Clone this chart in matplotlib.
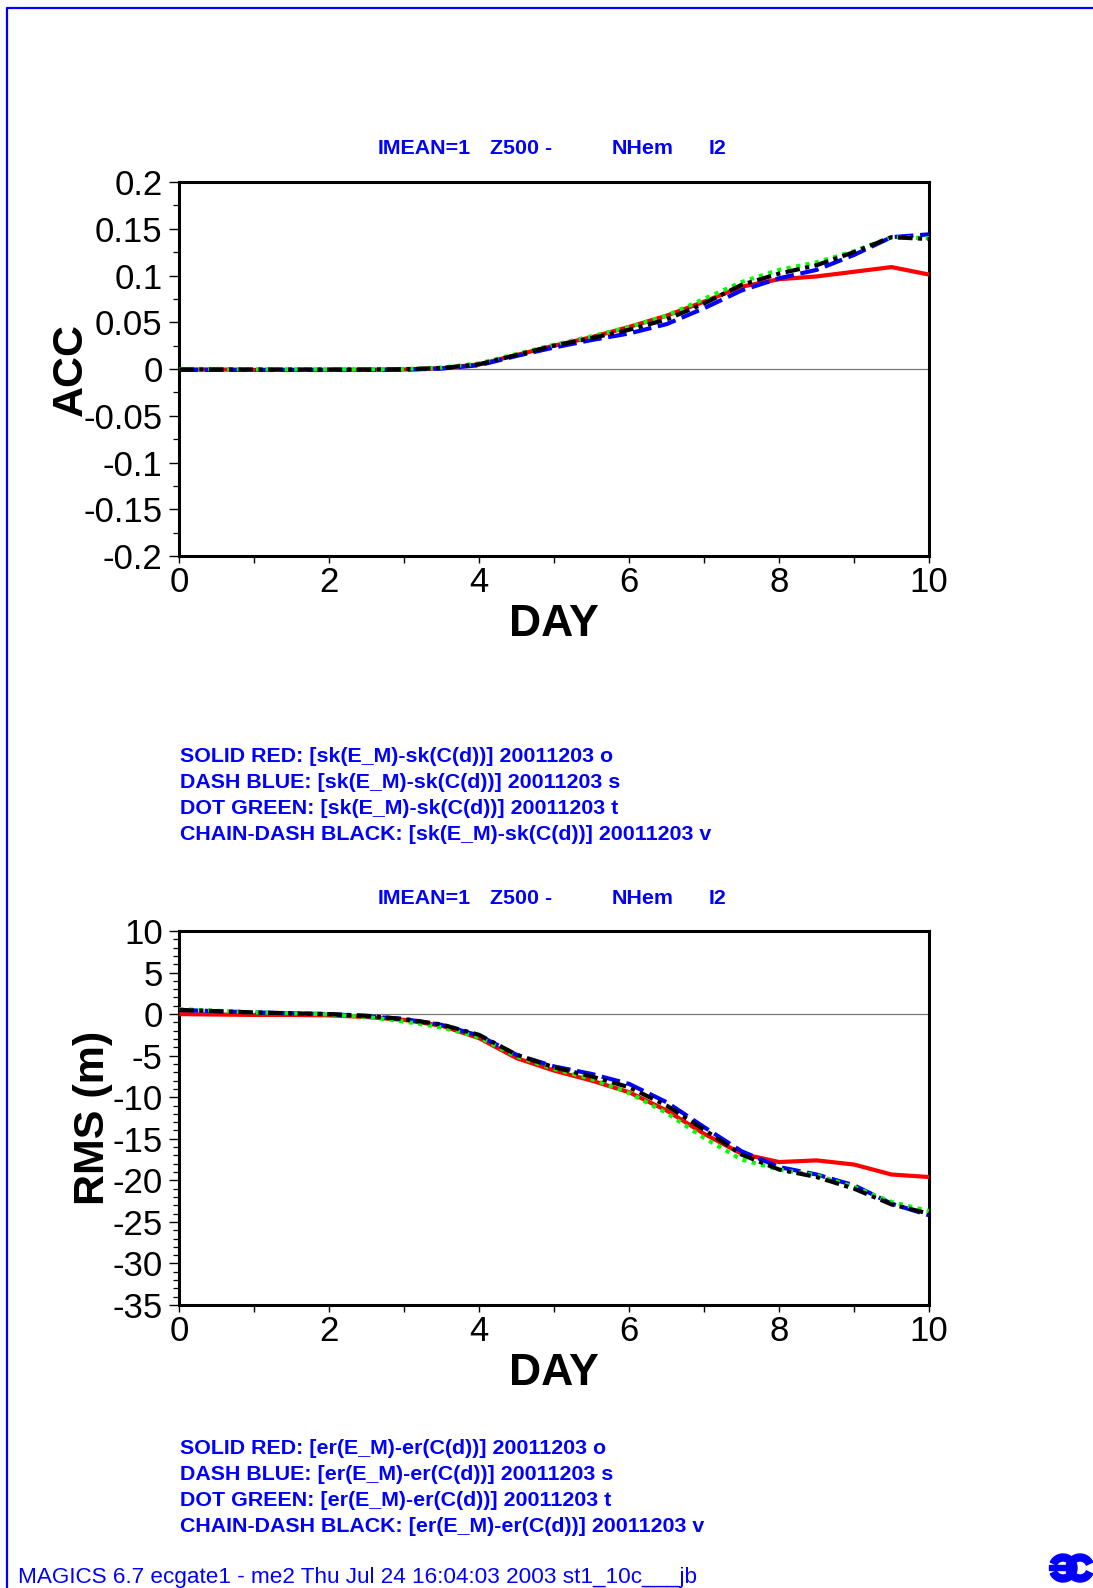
"""MAGICS-style verification plot: ACC and RMS differences of Z500 NHem
for four experiments against the control, days 0-10."""
import matplotlib
matplotlib.use("Agg")
import matplotlib.pyplot as plt
from matplotlib.patches import Wedge, Rectangle
from matplotlib.ticker import MultipleLocator, FuncFormatter

plt.rcParams["font.family"] = ["Liberation Sans", "DejaVu Sans"]
plt.rcParams["axes.unicode_minus"] = False

BLUE = "#0000ff"

days = [0, 0.5, 1, 1.5, 2, 2.5, 3, 3.5, 4, 4.5, 5,
        5.5, 6, 6.5, 7, 7.5, 8, 8.5, 9, 9.5, 10]

acc_red = [-0.0005, -0.0005, -0.001, -0.001, -0.001, -0.0008, -0.0005, 0.0008, 0.005, 0.015, 0.025,
           0.034, 0.045, 0.057, 0.072, 0.088, 0.096, 0.099, 0.104, 0.109, 0.101]
acc_blue = [-0.001, -0.001, -0.001, -0.001, -0.001, -0.001, -0.0008, 0.0005, 0.004, 0.014, 0.023,
            0.031, 0.038, 0.048, 0.065, 0.084, 0.097, 0.106, 0.122, 0.141, 0.144]
acc_green = [0.0, 0.0, -0.0005, -0.0005, -0.0005, -0.0003, 0.0, 0.0015, 0.006, 0.016, 0.026,
             0.035, 0.045, 0.057, 0.075, 0.093, 0.106, 0.114, 0.126, 0.141, 0.140]
acc_black = [-0.0005, -0.0005, -0.0005, -0.0005, -0.0005, -0.0005, -0.0003, 0.001, 0.005, 0.015, 0.025,
             0.033, 0.042, 0.053, 0.070, 0.090, 0.102, 0.111, 0.125, 0.141, 0.139]

rms_red = [0.0, -0.05, -0.1, -0.1, -0.15, -0.35, -0.7, -1.4, -2.9, -5.3, -6.8,
           -8.0, -9.4, -11.6, -14.4, -16.8, -17.8, -17.6, -18.1, -19.3, -19.6]
rms_blue = [0.5, 0.35, 0.2, 0.1, 0.0, -0.25, -0.6, -1.3, -2.6, -4.9, -6.3,
            -7.2, -8.4, -10.6, -13.6, -16.5, -18.4, -19.3, -20.6, -22.8, -24.2]
rms_green = [0.6, 0.4, 0.2, 0.1, -0.05, -0.35, -0.9, -1.6, -2.8, -5.1, -6.6,
             -7.8, -9.5, -11.9, -14.9, -17.5, -18.7, -19.4, -20.8, -22.6, -23.7]
rms_black = [0.5, 0.35, 0.2, 0.1, 0.0, -0.2, -0.6, -1.25, -2.5, -4.9, -6.4,
             -7.5, -8.8, -11.0, -13.9, -16.9, -18.7, -19.6, -21.0, -22.9, -24.0]

title_parts = ["IMEAN=1", "Z500 -", "NHem", "I2"]
legend_styles = ["SOLID RED", "DASH BLUE", "DOT GREEN", "CHAIN-DASH BLACK"]
legend_tags = ["o", "s", "t", "v"]
footer = "MAGICS 6.7 ecgate1 - me2 Thu Jul 24 16:04:03 2003 st1_10c___jb"

W, H = 1093, 1588
fig = plt.figure(figsize=(W / 100, H / 100), dpi=100)

# page overlay in pixel coordinates (border, texts, logo)
page = fig.add_axes([0, 0, 1, 1])
page.set_xlim(0, W)
page.set_ylim(H, 0)
page.axis("off")
page.plot([7, 7, W + 5], [H + 5, 8, 8], color=BLUE, lw=1.6)

STYLES = [
    dict(color="#ff0000", ls="-"),
    dict(color="#0000ff", dashes=(4.5, 1.6)),
    dict(color="#00ff00", dashes=(1, 1.3)),
    dict(color="#000000", dashes=(3.5, 1.3, 1, 1.3)),
]


def panel(top_px, series, ylim, major, minor, ylabel, ylabel_x):
    left, right, height = 179.3, 929.0, 374.0
    ax = fig.add_axes([left / W, 1 - (top_px + height) / H, (right - left) / W, height / H])
    ax.axhline(0, color="#777777", lw=0.9, zorder=1)
    for ys, st in zip(series, STYLES):
        ax.plot(days, ys, lw=3.0, solid_capstyle="butt", dash_capstyle="butt", zorder=3, **st)
    ax.set_xlim(0, 10)
    ax.set_ylim(*ylim)
    ax.xaxis.set_major_locator(MultipleLocator(2))
    ax.xaxis.set_minor_locator(MultipleLocator(1))
    ax.yaxis.set_major_locator(MultipleLocator(major))
    ax.yaxis.set_minor_locator(MultipleLocator(minor))
    ax.yaxis.set_major_formatter(FuncFormatter(lambda v, p: "%g" % round(v, 6)))
    for s in ax.spines.values():
        s.set_linewidth(2.2)
    ax.tick_params(axis="y", which="major", direction="out", length=7, width=1.0,
                   labelsize=25, pad=5)
    ax.tick_params(axis="y", which="minor", direction="out", length=4.5, width=0.9)
    ax.tick_params(axis="x", which="both", direction="out", length=5, width=1.0,
                   labelsize=25, pad=2.5)
    ax.set_xlabel("DAY", fontsize=32, fontweight="bold")
    ax.xaxis.set_label_coords(0.5, -0.184)
    ax.xaxis.label.set_va("center")
    ax.set_ylabel(ylabel, fontsize=31, fontweight="bold")
    ax.yaxis.set_label_coords(ylabel_x, 0.5)
    ax.yaxis.label.set_va("center")
    return ax


panel(182, [acc_red, acc_blue, acc_green, acc_black], (-0.2, 0.2), 0.05, 0.025, "ACC", -0.1445)
panel(931, [rms_red, rms_blue, rms_green, rms_black], (-35, 10), 5, 1, "RMS (m)", -0.115)

title_x = [378, 490, 612, 709]
for ty in (149, 899):
    for tx, t in zip(title_x, title_parts):
        page.text(tx, ty, t, color=BLUE, fontsize=15.4, fontweight="bold", va="center", ha="left")

for y0, tag in ((757, "sk"), (1449, "er")):
    for i, (sty, run) in enumerate(zip(legend_styles, legend_tags)):
        line = f"{sty}: [{tag}(E_M)-{tag}(C(d))] 20011203 {run}"
        page.text(180, y0 + i * 25.9, line, color=BLUE, fontsize=15.4, fontweight="bold",
                  va="center", ha="left")

page.text(18, 1577, footer, color=BLUE, fontsize=16.2, va="center", ha="left")

# ECMWF logo
page.add_patch(Wedge((1063, 1568), 14, 205, 155, width=7, color=BLUE))
page.add_patch(Wedge((1080, 1568), 14, 25, 335, width=7, color=BLUE))
page.add_patch(Rectangle((1049, 1565), 16, 5, color=BLUE))

fig.savefig("out.png", dpi=100)
